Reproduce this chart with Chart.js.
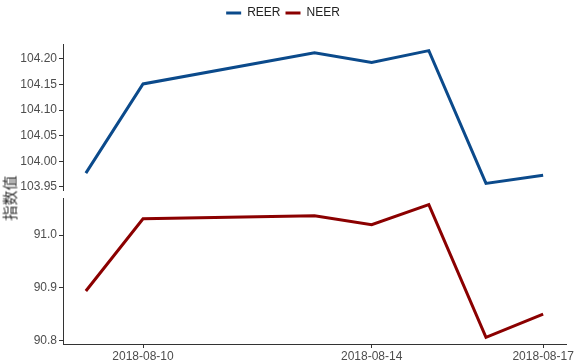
<!DOCTYPE html>
<html lang="zh">
<head>
<meta charset="UTF-8">
<title>REER / NEER</title>
<script src="https://cdn.jsdelivr.net/npm/chart.js@4.4.0/dist/chart.umd.min.js"></script>
<style>
  body { margin: 0; background: #fff; }
  #wrap { position: relative; width: 582px; height: 364px; }
  #reerChart { position: absolute; left: 0; top: 0; }
  #neerChart { position: absolute; left: 0; top: 194px; }
  #yTitle {
    position: absolute; left: 9px; top: 198px;
    transform: translate(-50%, -50%) rotate(-90deg);
    font: 15px "Noto Sans CJK SC"; color: #333; white-space: nowrap;
  }
</style>
</head>
<body>
<div id="wrap">
  <canvas id="reerChart" width="582" height="194"></canvas>
  <canvas id="neerChart" width="582" height="170"></canvas>
  <div id="yTitle">指数值</div>
</div>
<script>
const dates = ['2018-08-09', '2018-08-10', '2018-08-13', '2018-08-14', '2018-08-15', '2018-08-16', '2018-08-17'];
const reer = [103.977, 104.151, 104.212, 104.193, 104.216, 103.957, 103.973];
const neer = [90.894, 91.031, 91.037, 91.020, 91.058, 90.806, 90.850];
const dateTicks = ['2018-08-10', '2018-08-14', '2018-08-17'];
const reerTicks = [103.95, 104.00, 104.05, 104.10, 104.15, 104.20];
const neerTicks = [90.8, 90.9, 91.0];

const REER_COLOR = '#0b4a8b';
const NEER_COLOR = '#8b0000';
const AXIS_COLOR = '#333333';
const FONT = 'Liberation Sans, Arial, sans-serif';

const dayNum = s => Date.parse(s) / 864e5;

// ggplot-style 5% expansion
function expand(values) {
    const lo = Math.min(...values), hi = Math.max(...values);
    const pad = (hi - lo) * 0.05;
    return { min: lo - pad, max: hi + pad };
}

const xRange = expand(dates.map(dayNum));

function points(values) {
    return dates.map((d, i) => ({ x: dayNum(d), y: values[i] }));
}

function xScale(show) {
    return {
        type: 'linear',
        display: show,
        min: xRange.min,
        max: xRange.max,
        afterBuildTicks: s => { s.ticks = dateTicks.map(d => ({ value: dayNum(d) })); },
        afterFit: s => {
            if (!show) return;
            s.height = 20; s.paddingLeft = 0; s.paddingRight = 0;
        },
        grid: { drawOnChartArea: false, drawTicks: true, tickLength: 4, tickColor: AXIS_COLOR, tickWidth: 1 },
        border: { color: AXIS_COLOR, width: 1 },
        ticks: {
            color: '#4d4d4d', padding: 1, maxRotation: 0, autoSkip: false,
            font: { size: 12, family: FONT },
            callback: (v, i) => dateTicks[i]
        }
    };
}

function yScale(values, tickValues, digits) {
    const r = expand(values);
    return {
        min: r.min,
        max: r.max,
        afterBuildTicks: s => { s.ticks = tickValues.map(v => ({ value: v })); },
        afterFit: s => { s.width = 63; s.paddingTop = 0; s.paddingBottom = 0; },
        grid: { drawOnChartArea: false, drawTicks: true, tickLength: 4, tickColor: AXIS_COLOR, tickWidth: 1 },
        border: { color: AXIS_COLOR, width: 1 },
        ticks: {
            color: '#4d4d4d', padding: 2,
            font: { size: 12, family: FONT },
            callback: v => v.toFixed(digits)
        }
    };
}

function lineSet(label, values, color) {
    return {
        label: label,
        data: values ? points(values) : [],
        borderColor: color,
        backgroundColor: color,
        borderWidth: 3,
        pointRadius: 0,
        borderJoinStyle: 'miter',
        borderCapStyle: 'butt',
        tension: 0
    };
}

// fixed room above the top panel for the legend
const legendSpace = {
    id: 'legendSpace',
    beforeInit(chart) {
        const fit = chart.legend.fit;
        chart.legend.fit = function () {
            fit.call(this);
            this.height = 42;
        };
    }
};

new Chart(document.getElementById('reerChart'), {
    type: 'line',
    data: {
        datasets: [lineSet('REER', reer, REER_COLOR), lineSet('NEER', null, NEER_COLOR)]
    },
    options: {
        responsive: false,
        animation: false,
        layout: { padding: { top: 2, right: 16, bottom: 4, left: 0 } },
        scales: {
            x: xScale(false),
            y: yScale(reer, reerTicks, 2)
        },
        plugins: {
            legend: {
                position: 'top',
                align: 'center',
                labels: {
                    usePointStyle: true,
                    pointStyle: 'line',
                    pointStyleWidth: 15,
                    padding: 5,
                    color: '#222',
                    font: { size: 12, family: FONT }
                }
            },
            tooltip: { enabled: false }
        }
    },
    plugins: [legendSpace]
});

new Chart(document.getElementById('neerChart'), {
    type: 'line',
    data: {
        datasets: [lineSet('NEER', neer, NEER_COLOR)]
    },
    options: {
        responsive: false,
        animation: false,
        layout: { padding: { top: 4, right: 16, bottom: 0, left: 0 } },
        scales: {
            x: xScale(true),
            y: yScale(neer, neerTicks, 1)
        },
        plugins: {
            legend: { display: false },
            tooltip: { enabled: false }
        }
    }
});
</script>
</body>
</html>
